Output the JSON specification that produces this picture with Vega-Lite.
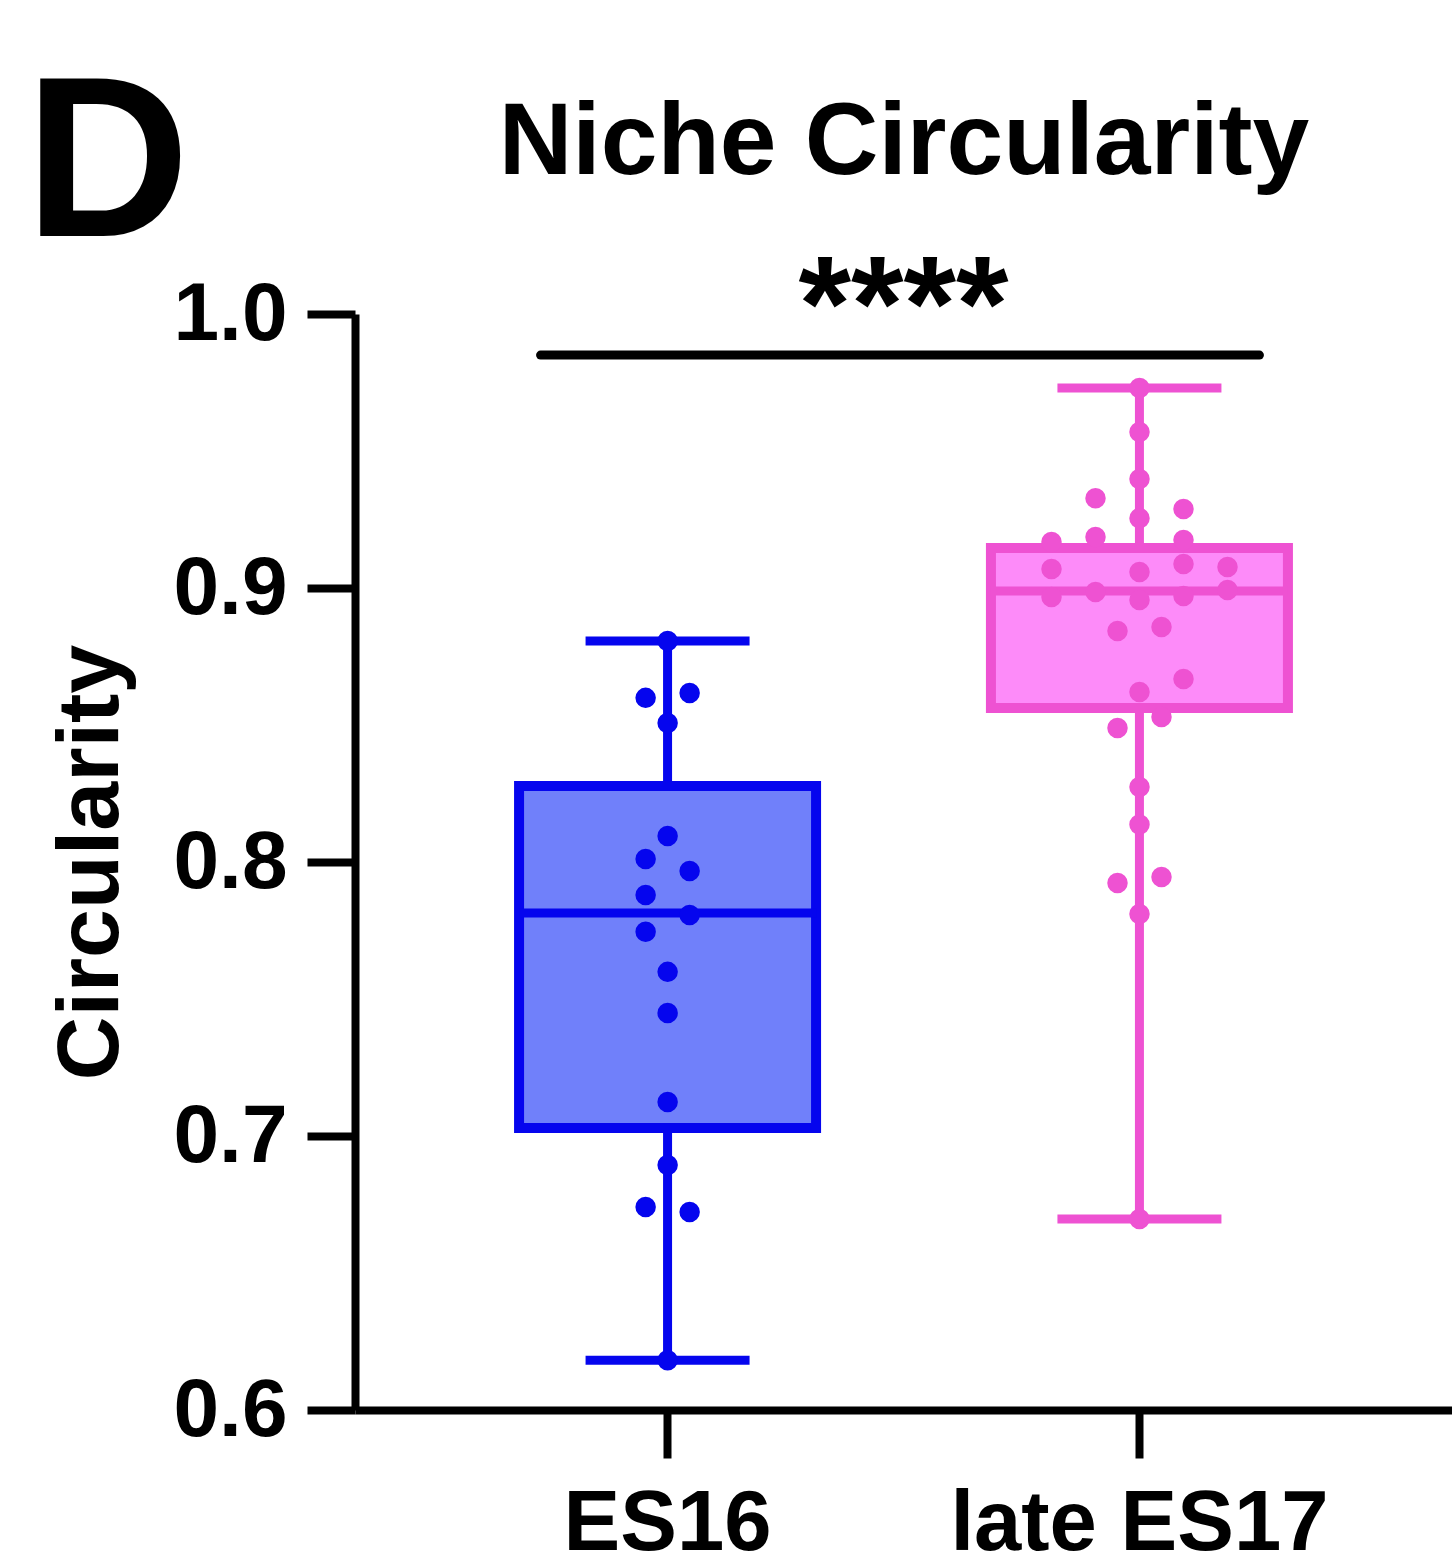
{
  "$schema": "https://vega.github.io/schema/vega-lite/v6.json",
  "width": 1097,
  "height": 1096,
  "autosize": "none",
  "padding": {"left": 355, "top": 314, "right": 0, "bottom": 157},
  "background": "white",
  "config": {"view": {"stroke": null}, "font": "Liberation Sans"},
  "title": {"text": "D", "anchor": "start", "frame": "group", "fontSize": 228, "fontWeight": "bold", "font": "Liberation Sans", "color": "#000000", "baseline": "alphabetic", "offset": -373, "dx": -330},
  "datasets": {
    "summary": [
      {"group": "ES16", "min": 0.6182, "q1": 0.7029, "median": 0.7814, "q3": 0.8277, "max": 0.8807},
      {"group": "late ES17", "min": 0.6697, "q1": 0.8562, "median": 0.8989, "q3": 0.9146, "max": 0.9730}
    ],
    "points": [
      {"group": "ES16", "slot": 0, "value": 0.8807},
      {"group": "ES16", "slot": -0.5, "value": 0.8599},
      {"group": "ES16", "slot": 0.5, "value": 0.8617},
      {"group": "ES16", "slot": 0, "value": 0.8507},
      {"group": "ES16", "slot": 0, "value": 0.8095},
      {"group": "ES16", "slot": -0.5, "value": 0.8011},
      {"group": "ES16", "slot": 0.5, "value": 0.7967},
      {"group": "ES16", "slot": -0.5, "value": 0.7880},
      {"group": "ES16", "slot": 0.5, "value": 0.7807},
      {"group": "ES16", "slot": -0.5, "value": 0.7745},
      {"group": "ES16", "slot": 0, "value": 0.7599},
      {"group": "ES16", "slot": 0, "value": 0.7449},
      {"group": "ES16", "slot": 0, "value": 0.7124},
      {"group": "ES16", "slot": 0, "value": 0.6894},
      {"group": "ES16", "slot": -0.5, "value": 0.6741},
      {"group": "ES16", "slot": 0.5, "value": 0.6723},
      {"group": "ES16", "slot": 0, "value": 0.6182},
      {"group": "late ES17", "slot": 0, "value": 0.9730},
      {"group": "late ES17", "slot": 0, "value": 0.9569},
      {"group": "late ES17", "slot": 0, "value": 0.9398},
      {"group": "late ES17", "slot": -1, "value": 0.9328},
      {"group": "late ES17", "slot": 1, "value": 0.9288},
      {"group": "late ES17", "slot": 0, "value": 0.9255},
      {"group": "late ES17", "slot": -2, "value": 0.9168},
      {"group": "late ES17", "slot": -1, "value": 0.9186},
      {"group": "late ES17", "slot": 1, "value": 0.9175},
      {"group": "late ES17", "slot": -2, "value": 0.9069},
      {"group": "late ES17", "slot": 0, "value": 0.9058},
      {"group": "late ES17", "slot": 1, "value": 0.9088},
      {"group": "late ES17", "slot": 2, "value": 0.9077},
      {"group": "late ES17", "slot": -2, "value": 0.8967},
      {"group": "late ES17", "slot": -1, "value": 0.8985},
      {"group": "late ES17", "slot": 0, "value": 0.8956},
      {"group": "late ES17", "slot": 1, "value": 0.8971},
      {"group": "late ES17", "slot": 2, "value": 0.8993},
      {"group": "late ES17", "slot": -0.5, "value": 0.8843},
      {"group": "late ES17", "slot": 0.5, "value": 0.8858},
      {"group": "late ES17", "slot": 1, "value": 0.8668},
      {"group": "late ES17", "slot": 0, "value": 0.8620},
      {"group": "late ES17", "slot": 0.5, "value": 0.8529},
      {"group": "late ES17", "slot": -0.5, "value": 0.8489},
      {"group": "late ES17", "slot": 0, "value": 0.8274},
      {"group": "late ES17", "slot": 0, "value": 0.8137},
      {"group": "late ES17", "slot": -0.5, "value": 0.7923},
      {"group": "late ES17", "slot": 0.5, "value": 0.7945},
      {"group": "late ES17", "slot": 0, "value": 0.7810},
      {"group": "late ES17", "slot": 0, "value": 0.6697}
    ],
    "sig": [
      {"group": "ES16", "to": "late ES17", "y": 0.985, "label": "****"}
    ]
  },
  "resolve": {"axis": {"x": "independent", "y": "independent"}},
  "layer": [
    {
      "data": {"name": "summary"},
      "mark": {"type": "rule", "strokeWidth": 9},
      "encoding": {
        "x": {"field": "group", "type": "nominal", "scale": {"type": "band", "domain": ["ES16", "late ES17"], "paddingInner": 0, "paddingOuter": 0.1624},
          "axis": {"title": null, "grid": false, "domainColor": "#000000", "domainWidth": 8, "tickColor": "#000000", "tickWidth": 8, "tickSize": 48, "labelFontSize": 85, "labelFont": "Liberation Sans", "labelFontWeight": "bold", "labelColor": "#000000", "labelPadding": 24, "labelAngle": 0, "labelLimit": 0}},
        "y": {"field": "min", "type": "quantitative", "scale": {"domain": [0.6, 1.0], "nice": false, "zero": false},
          "axis": {"values": [0.6, 0.7, 0.8, 0.9, 1.0], "format": ".1f", "title": "Circularity", "grid": false, "domainColor": "#000000", "domainWidth": 8, "tickColor": "#000000", "tickWidth": 8, "tickSize": 48, "labelFontSize": 82, "labelFont": "Liberation Sans", "labelFontWeight": "bold", "labelColor": "#000000", "labelPadding": 20, "labelLimit": 0, "titleFontSize": 88, "titleFont": "Liberation Sans", "titleFontWeight": "bold", "titleColor": "#000000", "titlePadding": 38}},
        "y2": {"field": "max"},
        "stroke": {"field": "group", "type": "nominal", "scale": {"domain": ["ES16", "late ES17"], "range": ["#0505EE", "#EE52D2"]}, "legend": null}
      }
    },
    {
      "data": {"name": "summary"},
      "mark": {"type": "bar", "width": 297, "strokeWidth": 10},
      "encoding": {
        "x": {"field": "group", "type": "nominal", "scale": {"type": "band", "domain": ["ES16", "late ES17"], "paddingInner": 0, "paddingOuter": 0.1624}, "axis": null},
        "y": {"field": "q1", "type": "quantitative", "scale": {"domain": [0.6, 1.0], "nice": false, "zero": false}, "axis": null},
        "y2": {"field": "q3"},
        "fill": {"field": "group", "type": "nominal", "scale": {"domain": ["ES16", "late ES17"], "range": ["#7080FA", "#FD8BF9"]}, "legend": null},
        "stroke": {"field": "group", "type": "nominal", "scale": {"domain": ["ES16", "late ES17"], "range": ["#0505EE", "#EE52D2"]}, "legend": null}
      }
    },
    {
      "data": {"name": "summary"},
      "mark": {"type": "tick", "size": 164, "thickness": 9, "opacity": 1},
      "encoding": {
        "x": {"field": "group", "type": "nominal", "scale": {"type": "band", "domain": ["ES16", "late ES17"], "paddingInner": 0, "paddingOuter": 0.1624}, "axis": null},
        "y": {"field": "min", "type": "quantitative", "scale": {"domain": [0.6, 1.0], "nice": false, "zero": false}, "axis": null},
        "color": {"field": "group", "type": "nominal", "scale": {"domain": ["ES16", "late ES17"], "range": ["#0505EE", "#EE52D2"]}, "legend": null}
      }
    },
    {
      "data": {"name": "summary"},
      "mark": {"type": "tick", "size": 164, "thickness": 9, "opacity": 1},
      "encoding": {
        "x": {"field": "group", "type": "nominal", "scale": {"type": "band", "domain": ["ES16", "late ES17"], "paddingInner": 0, "paddingOuter": 0.1624}, "axis": null},
        "y": {"field": "max", "type": "quantitative", "scale": {"domain": [0.6, 1.0], "nice": false, "zero": false}, "axis": null},
        "color": {"field": "group", "type": "nominal", "scale": {"domain": ["ES16", "late ES17"], "range": ["#0505EE", "#EE52D2"]}, "legend": null}
      }
    },
    {
      "data": {"name": "summary"},
      "mark": {"type": "tick", "size": 297, "thickness": 9, "opacity": 1},
      "encoding": {
        "x": {"field": "group", "type": "nominal", "scale": {"type": "band", "domain": ["ES16", "late ES17"], "paddingInner": 0, "paddingOuter": 0.1624}, "axis": null},
        "y": {"field": "median", "type": "quantitative", "scale": {"domain": [0.6, 1.0], "nice": false, "zero": false}, "axis": null},
        "color": {"field": "group", "type": "nominal", "scale": {"domain": ["ES16", "late ES17"], "range": ["#0505EE", "#EE52D2"]}, "legend": null}
      }
    },
    {
      "data": {"name": "points"},
      "mark": {"type": "circle", "size": 420, "opacity": 1},
      "encoding": {
        "x": {"field": "group", "type": "nominal", "scale": {"type": "band", "domain": ["ES16", "late ES17"], "paddingInner": 0, "paddingOuter": 0.1624}, "axis": null},
        "xOffset": {"field": "slot", "type": "quantitative", "scale": {"domain": [-2, 2], "range": [148, 324], "nice": false, "zero": false}},
        "y": {"field": "value", "type": "quantitative", "scale": {"domain": [0.6, 1.0], "nice": false, "zero": false}, "axis": null},
        "color": {"field": "group", "type": "nominal", "scale": {"domain": ["ES16", "late ES17"], "range": ["#0505EE", "#EE52D2"]}, "legend": null}
      }
    },
    {
      "data": {"name": "sig"},
      "mark": {"type": "rule", "strokeWidth": 9, "strokeCap": "round", "color": "#000000", "xOffset": -127, "x2Offset": 120},
      "encoding": {
        "x": {"field": "group", "type": "nominal", "scale": {"type": "band", "domain": ["ES16", "late ES17"], "paddingInner": 0, "paddingOuter": 0.1624},
          "axis": {"orient": "top", "domain": false, "ticks": false, "labels": false, "grid": false, "title": "Niche Circularity", "titleFontSize": 102, "titleFont": "Liberation Sans", "titleFontWeight": "bold", "titleColor": "#000000", "titlePadding": 141, "titleBaseline": "alphabetic"}},
        "x2": {"field": "to"},
        "y": {"field": "y", "type": "quantitative", "scale": {"domain": [0.6, 1.0], "nice": false, "zero": false}, "axis": null}
      }
    },
    {
      "data": {"name": "sig"},
      "mark": {"type": "text", "fontSize": 135, "fontWeight": "bold", "baseline": "alphabetic", "align": "center", "xOffset": 236, "dy": -5, "color": "#000000", "font": "Liberation Sans"},
      "encoding": {
        "x": {"field": "group", "type": "nominal", "scale": {"type": "band", "domain": ["ES16", "late ES17"], "paddingInner": 0, "paddingOuter": 0.1624}, "axis": null},
        "y": {"field": "y", "type": "quantitative", "scale": {"domain": [0.6, 1.0], "nice": false, "zero": false}, "axis": null},
        "text": {"field": "label"}
      }
    }
  ]
}
